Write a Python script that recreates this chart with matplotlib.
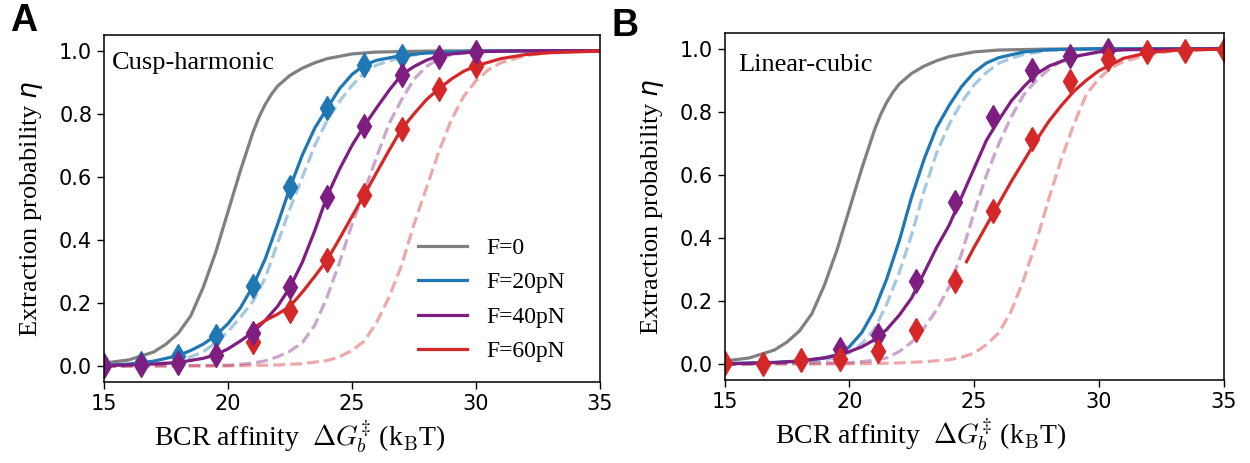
import matplotlib.pyplot as plt

# F=0 curve (same in both models)
f0_x = [15, 16, 17, 17.5, 18, 18.5, 19, 19.5, 20, 20.5, 21, 21.25, 21.5, 21.75, 22, 22.5, 23, 23.5, 24,
        25, 26, 28, 30, 35]
f0_y = [0.01, 0.02, 0.045, 0.07, 0.105, 0.16, 0.25, 0.36, 0.49, 0.62, 0.74, 0.79, 0.83, 0.862, 0.888,
        0.922, 0.945, 0.962, 0.975, 0.99, 0.996, 0.999, 1.0, 1.0]

# ---- panel A: cusp-harmonic ----
a20_x = [15, 16, 17, 18, 18.5, 19, 19.5, 20, 20.5, 21, 21.5, 22, 22.5, 23, 23.5, 24, 24.5, 25, 25.5, 26,
         27, 28, 30, 35]
a20_y = [0.003, 0.007, 0.016, 0.034, 0.05, 0.07, 0.097, 0.135, 0.185, 0.253, 0.34, 0.45, 0.567, 0.67,
         0.755, 0.818, 0.88, 0.925, 0.955, 0.97, 0.985, 0.993, 0.999, 1.0]
a20d_x = [15, 17, 18, 19, 19.5, 20, 20.5, 21, 21.5, 22, 22.5, 23, 23.5, 24, 24.5, 25, 25.5, 26, 27, 28, 30, 35]
a20d_y = [0.0, 0.005, 0.015, 0.045, 0.075, 0.11, 0.155, 0.205, 0.28, 0.39, 0.5, 0.6, 0.7, 0.78, 0.84,
          0.89, 0.93, 0.955, 0.98, 0.993, 0.999, 1.0]
a40_x = [15, 16, 17, 18, 19, 19.5, 20, 20.5, 21, 21.5, 22, 22.5, 23, 23.5, 24, 24.5, 25, 25.5, 26, 26.5,
         27, 27.5, 28, 28.5, 29, 30, 32, 35]
a40_y = [0.002, 0.004, 0.007, 0.012, 0.025, 0.036, 0.055, 0.08, 0.108, 0.145, 0.19, 0.25, 0.33, 0.43,
         0.54, 0.625, 0.70, 0.763, 0.82, 0.875, 0.924, 0.95, 0.97, 0.984, 0.99, 0.997, 1.0, 1.0]
a40d_x = [15, 20, 21, 21.5, 22, 22.5, 23, 23.5, 24, 24.5, 25, 25.5, 26, 26.5, 27, 27.5, 28, 28.5, 29,
          30, 31, 35]
a40d_y = [0.0, 0.003, 0.01, 0.017, 0.03, 0.048, 0.075, 0.13, 0.22, 0.33, 0.45, 0.555, 0.665, 0.77,
          0.845, 0.91, 0.95, 0.975, 0.988, 0.997, 1.0, 1.0]
a60_x = [21, 21.5, 22, 22.5, 23, 23.5, 24, 24.5, 25, 25.5, 26, 26.5, 27, 27.5, 28, 28.5, 29, 29.5, 30,
         31, 32, 33, 35]
a60_y = [0.12, 0.145, 0.165, 0.19, 0.235, 0.285, 0.337, 0.405, 0.475, 0.544, 0.615, 0.685, 0.752, 0.80,
         0.845, 0.879, 0.91, 0.935, 0.952, 0.975, 0.988, 0.994, 0.999]
a60d_x = [15, 20, 22, 23, 24, 24.5, 25, 25.5, 26, 26.5, 27, 27.5, 28, 28.5, 29, 29.5, 30, 30.5, 31, 32,
          33, 35]
a60d_y = [0.0, 0.001, 0.004, 0.008, 0.018, 0.03, 0.05, 0.08, 0.14, 0.22, 0.32, 0.45, 0.565, 0.68, 0.78,
          0.855, 0.905, 0.94, 0.962, 0.985, 0.995, 1.0]

# simulation points, panel A
a_pts_x = [15, 16.5, 18, 19.5, 21, 22.5, 24, 25.5, 27, 28.5, 30]
a_pts20 = [0.003, 0.01, 0.034, 0.097, 0.253, 0.567, 0.818, 0.955, 0.985]
a_pts40 = [0.002, 0.005, 0.01, 0.036, 0.106, 0.25, 0.537, 0.763, 0.924, 0.98, 0.996]
a_pts60_x = [21, 22.5, 24, 25.5, 27, 28.5, 30]
a_pts60 = [0.076, 0.176, 0.337, 0.544, 0.752, 0.879, 0.952]

# ---- panel B: linear-cubic ----
b20_x = [15, 17, 18, 19, 19.5, 20, 20.5, 21, 21.5, 22, 22.5, 23, 23.5, 24, 24.5, 25, 25.5, 26, 27, 28, 30, 35]
b20_y = [0.002, 0.006, 0.01, 0.02, 0.03, 0.055, 0.1, 0.17, 0.27, 0.39, 0.53, 0.65, 0.75, 0.82, 0.88,
         0.925, 0.955, 0.972, 0.99, 0.997, 1.0, 1.0]
b20d_x = [15, 17, 18, 19, 19.5, 20, 20.5, 21, 21.5, 22, 22.5, 23, 23.5, 24, 24.5, 25, 25.5, 26, 26.5, 27,
          28, 30, 35]
b20d_y = [0.0, 0.003, 0.007, 0.014, 0.022, 0.036, 0.065, 0.11, 0.19, 0.29, 0.41, 0.55, 0.67, 0.76, 0.83,
          0.885, 0.925, 0.955, 0.97, 0.982, 0.995, 1.0, 1.0]
b40_x = [15, 17, 18, 19, 19.5, 20, 20.5, 21, 21.5, 22, 22.5, 23, 23.5, 24, 24.5, 25, 25.5, 26, 26.5, 27,
         27.5, 28, 29, 30, 31, 35]
b40_y = [0.001, 0.005, 0.01, 0.02, 0.028, 0.04, 0.055, 0.077, 0.11, 0.155, 0.21, 0.29, 0.37, 0.44, 0.53,
         0.62, 0.71, 0.775, 0.835, 0.88, 0.92, 0.945, 0.975, 0.99, 0.997, 1.0]
b40d_x = [15, 20, 21, 21.5, 22, 22.5, 23, 23.5, 24, 24.5, 25, 25.5, 26, 26.5, 27, 27.5, 28, 28.5, 29,
          30, 31, 35]
b40d_y = [0.0, 0.005, 0.012, 0.02, 0.04, 0.07, 0.115, 0.172, 0.245, 0.35, 0.48, 0.6, 0.7, 0.785, 0.855,
          0.9, 0.935, 0.96, 0.975, 0.99, 0.997, 1.0]
b60_x = [24.7, 25, 25.5, 26, 26.5, 27, 27.5, 28, 28.5, 29, 29.5, 30, 31, 32, 33, 35]
b60_y = [0.325, 0.37, 0.44, 0.51, 0.58, 0.645, 0.71, 0.77, 0.82, 0.865, 0.9, 0.93, 0.97, 0.988, 0.995, 0.999]
b60d_x = [15, 20, 22, 23, 24, 24.5, 25, 25.5, 26, 26.5, 27, 27.5, 28, 28.5, 29, 29.5, 30, 30.5, 31, 32,
          33, 35]
b60d_y = [0.0, 0.001, 0.004, 0.008, 0.014, 0.022, 0.035, 0.062, 0.1, 0.17, 0.27, 0.39, 0.525, 0.65, 0.76,
          0.855, 0.905, 0.94, 0.96, 0.982, 0.993, 1.0]

# simulation points, panel B
b_pts_x = [15, 16.54, 18.08, 19.62, 21.15, 22.69, 24.23, 25.77, 27.31, 28.85, 30.38, 31.92, 33.46, 35]
b_pts40 = [0.048, 0.094, 0.264, 0.513, 0.784, 0.934, 0.978, 0.997]
b_pts60 = [0.003, 0.0, 0.012, 0.015, 0.042, 0.108, 0.264, 0.487, 0.715, 0.897, 0.967, 0.991, 0.994, 0.997]

gray = '#808080'
blue = '#1f77b4'
purple = '#7e1e80'
red = '#d62728'
lw = 2.3
serif = 'Liberation Serif'

fig = plt.figure(figsize=(12.5, 4.63), dpi=100)
axA = fig.add_axes([104 / 1250, 81 / 463, 496 / 1250, 347 / 463])
axB = fig.add_axes([724.5 / 1250, 83 / 463, 499 / 1250, 347 / 463])

mk = dict(marker='d', markersize=12, linestyle='none', markeredgewidth=1)

# panel A
ax = axA
ax.plot(a20d_x, a20d_y, '--', color=blue, alpha=0.4, lw=lw)
ax.plot(a40d_x, a40d_y, '--', color=purple, alpha=0.4, lw=lw)
ax.plot(a60d_x, a60d_y, '--', color=red, alpha=0.4, lw=lw)
ax.plot(f0_x, f0_y, color=gray, lw=lw, label='F=0')
ax.plot(a20_x, a20_y, color=blue, lw=lw, label='F=20pN')
ax.plot(a40_x, a40_y, color=purple, lw=lw, label='F=40pN')
ax.plot(a60_x, a60_y, color=red, lw=lw, label='F=60pN')
ax.plot(a_pts60_x, a_pts60, color=red, **mk)
ax.plot(a_pts_x[:len(a_pts20)], a_pts20, color=blue, **mk)
ax.plot(a_pts_x, a_pts40, color=purple, **mk)
ax.text(0.0155, 0.918, 'Cusp-harmonic', transform=ax.transAxes, va='center', ha='left',
        fontsize=19, family=serif)
ax.legend(loc='lower left', bbox_to_anchor=(0.59, -0.005), frameon=False,
          prop={'family': serif, 'size': 17}, labelspacing=0.55, handlelength=2.1)

# panel B
ax = axB
ax.plot(b20d_x, b20d_y, '--', color=blue, alpha=0.4, lw=lw)
ax.plot(b40d_x, b40d_y, '--', color=purple, alpha=0.4, lw=lw)
ax.plot(b60d_x, b60d_y, '--', color=red, alpha=0.4, lw=lw)
ax.plot(f0_x, f0_y, color=gray, lw=lw)
ax.plot(b20_x, b20_y, color=blue, lw=lw)
ax.plot(b40_x, b40_y, color=purple, lw=lw)
ax.plot(b60_x, b60_y, color=red, lw=lw)
ax.plot(b_pts_x[3:11], b_pts40, color=purple, **mk)
ax.plot(b_pts_x, b_pts60, color=red, **mk)
ax.text(0.027, 0.909, 'Linear-cubic', transform=ax.transAxes, va='center', ha='left',
        fontsize=19, family=serif)

for ax in (axA, axB):
    ax.set_xlim(15, 35)
    ax.set_ylim(-0.05, 1.05)
    ax.set_xticks([15, 20, 25, 30, 35])
    ax.set_yticks([0.0, 0.2, 0.4, 0.6, 0.8, 1.0])
    ax.tick_params(labelsize=15, length=5, width=1)
    for s in ax.spines.values():
        s.set_linewidth(1.1)
    ax.set_ylabel(r'Extraction probability $\eta$', fontsize=19, family=serif,
                  math_fontfamily='dejavusans', labelpad=10)
    ax.set_xlabel(r'BCR affinity  $\Delta G_b^{\ddagger}$ (k$_\mathrm{B}$T)', fontsize=20,
                  family=serif, math_fontfamily='cm', x=0.394, labelpad=3)

fig.text(10 / 1250, 1 - 3 / 463, 'A', fontsize=27, fontweight='bold', family='Liberation Sans',
         va='top', ha='left')
fig.text(612 / 1250, 1 - 8 / 463, 'B', fontsize=27, fontweight='bold', family='Liberation Sans',
         va='top', ha='left')

fig.savefig('out.png', dpi=100)
